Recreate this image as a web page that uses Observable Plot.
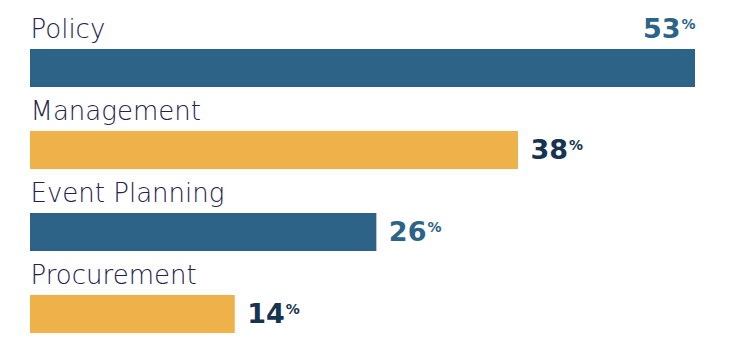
<!DOCTYPE html>
<html>
<head>
<meta charset="utf-8">
<script src="https://cdn.jsdelivr.net/npm/d3@7"></script>
<script src="https://cdn.jsdelivr.net/npm/@observablehq/plot@0.6"></script>
<style>
  html, body { margin: 0; padding: 0; background: #fff; }
  #chart svg { display: block; }
</style>
</head>
<body>
<div id="chart"></div>
<script>
const categories = ["Policy", "Management", "Event Planning", "Procurement"];
const values = [53, 38, 26, 14];
const barColors = ["#2c6387", "#efb24b", "#2c6387", "#efb24b"];
const labelColors = ["#2c6387", "#16334f", "#2c6387", "#16334f"];

const data = categories.map((c, i) => ({category: c, value: values[i], bar: barColors[i], label: labelColors[i], top: i === 0}));
const xMin = -3.35;
const xMax = d3.max(values);

const chart = Plot.plot({
  width: 754,
  height: 356,
  margin: 0,
  x: {domain: [xMin, xMax], range: [30, 695], axis: null},
  y: {domain: categories, range: [48, 334], paddingInner: 0.54, paddingOuter: 0, axis: null},
  style: {background: "#fff"},
  marks: [
    Plot.barX(data, {x1: xMin, x2: "value", y: "category", fill: "bar"}),
    Plot.text(data, {
      x: xMin, y: "category", text: "category",
      textAnchor: "start", lineAnchor: "bottom", dx: 0, dy: -31,
      fill: "#24224c", fontSize: 26, fontWeight: 200,
      fontFamily: "'DejaVu Sans', sans-serif"
    }),
    Plot.text(data.filter(d => d.top), {
      x: "value", y: "category", text: d => `${d.value}%`,
      textAnchor: "end", lineAnchor: "bottom", dy: -31,
      fill: "label", fontSize: 27, fontWeight: 700,
      fontFamily: "'DejaVu Sans', sans-serif", className: "vlabel"
    }),
    Plot.text(data.filter(d => !d.top), {
      x: "value", y: "category", text: d => `${d.value}%`,
      textAnchor: "start", lineAnchor: "middle", dx: 12,
      fill: "label", fontSize: 27, fontWeight: 700,
      fontFamily: "'DejaVu Sans', sans-serif", className: "vlabel"
    })
  ]
});

d3.select(chart).selectAll(".vlabel text").each(function() {
  const t = d3.select(this);
  const s = t.text();
  const num = s.replace("%", "");
  t.text(null);
  t.append("tspan").text(num);
  t.append("tspan").attr("font-size", 14).attr("dy", -9).attr("dx", 1).text("%");
});

document.getElementById("chart").appendChild(chart);
</script>
</body>
</html>
